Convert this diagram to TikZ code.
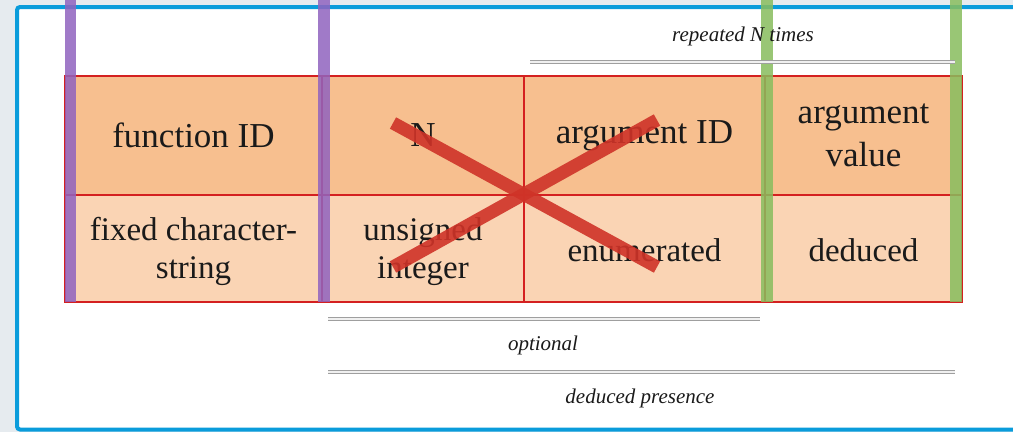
\documentclass[tikz,border=0pt]{standalone}
\usepackage{fontspec}
\setmainfont{Liberation Serif}
\definecolor{bgout}{HTML}{E6EBEF}
\definecolor{frameblue}{HTML}{0A9CDB}
\definecolor{hdrfill}{HTML}{F7BF8F}
\definecolor{lowfill}{HTML}{FAD4B4}
\definecolor{cellred}{HTML}{D42020}
\definecolor{xred}{HTML}{CF3328}
\definecolor{barpurple}{HTML}{9063BF}
\definecolor{bargreen}{HTML}{88BD5E}
\definecolor{txt}{HTML}{1A1A1A}
\tikzset{
  cell/.style={draw=cellred, line width=1.3pt, inner sep=0pt, align=center, text=txt},
  hdrcell/.style={cell, fill=hdrfill, minimum height=119pt, font=\fontsize{35}{43}\selectfont},
  lowcell/.style={cell, fill=lowfill, minimum height=107pt},
  lowtext/.style={inner sep=0pt, align=center, text=txt, font=\fontsize{33}{38}\selectfont},
  pbar/.style={draw=none, fill=barpurple, fill opacity=0.85},
  gbar/.style={draw=none, fill=bargreen, fill opacity=0.85},
  spanline/.style={draw=gray!75, line width=0.8pt, double=gray!12, double distance=2.6pt},
  spanlabel/.style={font=\fontsize{21}{24}\selectfont\itshape, text=txt, inner sep=0pt},
  crossline/.style={draw=xred, draw opacity=0.9, line width=13pt}
}
\begin{document}
\begin{tikzpicture}[x=1pt,y=-1pt]
\useasboundingbox (0,0) rectangle (1013,432);
% background and frame
\fill[bgout] (0,0) rectangle (1013,432);
\fill[white] (17,7) rectangle (1030,429.5);
\draw[frameblue, line width=4pt, rounded corners=3pt] (17,7) rectangle (1030,429.5);
% header row
\node[hdrcell, minimum width=257pt] (fid) at (193.5,135.5) {function ID};
\node[hdrcell, minimum width=202pt] (n) at (423,135.5) {N};
\node[hdrcell, minimum width=241pt] (aid) at (644.5,135.5) {argument ID};
\node[hdrcell, minimum width=197pt] (aval) at (863.5,135.5) {argument\\value};
% lower row
\node[lowcell, minimum width=257pt] (fidt) at (193.5,248.5) {};
\node[lowcell, minimum width=202pt] (nt) at (423,248.5) {};
\node[lowcell, minimum width=241pt] (aidt) at (644.5,248.5) {};
\node[lowcell, minimum width=197pt] (avalt) at (863.5,248.5) {};
\node[lowtext] (fidtx) at ([yshift=-3pt]fidt.center) {fixed character-\\string};
\node[lowtext] (ntx) at ([yshift=-3pt]nt.center) {unsigned\\integer};
\node[lowtext] (aidtx) at ([yshift=-2pt]aidt.center) {enumerated};
\node[lowtext] (avaltx) at ([yshift=-2pt]avalt.center) {deduced};
% cross over N / argument ID
\coordinate (xa) at (393,123);
\coordinate (xb) at (657,267);
\coordinate (xc) at (657,120);
\coordinate (xd) at (393,267);
\draw[crossline] (xa) -- (xb);
\draw[crossline] (xc) -- (xd);
% vertical bars
\fill[pbar] (65,0) rectangle (76,302);
\fill[pbar] (318,0) rectangle (330,302);
\fill[gbar] (761,0) rectangle (773,302);
\fill[gbar] (950,0) rectangle (962,302);
% span indicators
\coordinate (r1) at (530,62);
\coordinate (r2) at (955,62);
\draw[spanline] (r1) -- (r2);
\node[spanlabel] (rlab) at (743,36) {repeated N times};
\coordinate (o1) at (328,319);
\coordinate (o2) at (760,319);
\draw[spanline] (o1) -- (o2);
\node[spanlabel] (olab) at (543,345) {optional};
\coordinate (d1) at (328,372);
\coordinate (d2) at (955,372);
\draw[spanline] (d1) -- (d2);
\node[spanlabel] (dlab) at (640,398) {deduced presence};
\end{tikzpicture}
\end{document}
